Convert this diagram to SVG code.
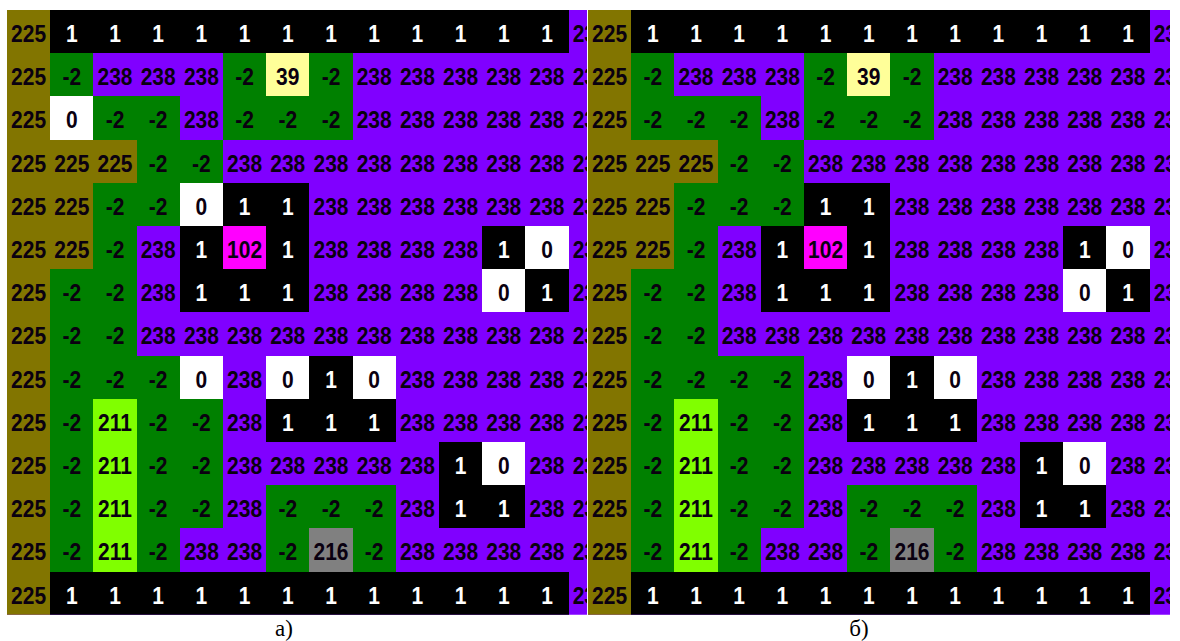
<svg xmlns="http://www.w3.org/2000/svg" width="1180" height="641" viewBox="0 0 1180 641">
<style>
.bg{fill:#8000ff}.O{fill:#827500}.G{fill:#008000}.K{fill:#000}.W{fill:#fff}.Y{fill:#ffff99}.M{fill:#ff00ff}.L{fill:#80ff00}.S{fill:#808080}
rect{shape-rendering:crispEdges}
text{font-family:"Liberation Sans",Arial,sans-serif;font-weight:bold;font-size:21px;text-anchor:middle;fill:#0a0010}
text.w{fill:#fff}
.lab{font-family:"Liberation Serif","Times New Roman",serif;font-weight:normal;font-size:23px;fill:#000}
</style>
<defs>
<clipPath id="clipA"><rect x="0" y="0" width="580" height="604.8"/></clipPath>
<clipPath id="clipB"><rect x="0" y="0" width="582" height="604.8"/></clipPath>
</defs>
<rect x="0" y="0" width="1180" height="641" fill="#fff"/>

<g id="panelA" transform="translate(7,10)" clip-path="url(#clipA)">
<rect class="bg" x="0" y="0" width="600" height="604.8"/>
<rect class="O" x="0" y="0" width="43.2" height="604.8"/>
<rect class="K" x="43.2" y="0" width="518.4" height="43.2"/>
<rect class="K" x="43.2" y="561.6" width="518.4" height="43.2"/>
<rect class="G" x="43.2" y="43.2" width="43.2" height="43.2"/>
<rect class="G" x="216" y="43.2" width="43.2" height="86.4"/>
<rect class="Y" x="259.2" y="43.2" width="43.2" height="43.2"/>
<rect class="G" x="302.4" y="43.2" width="43.2" height="43.2"/>
<rect class="W" x="43.2" y="86.4" width="43.2" height="43.2"/>
<rect class="G" x="86.4" y="86.4" width="86.4" height="43.2"/>
<rect class="G" x="216" y="86.4" width="129.6" height="43.2"/>
<rect class="O" x="43.2" y="129.6" width="86.4" height="43.2"/>
<rect class="G" x="129.6" y="129.6" width="86.4" height="43.2"/>
<rect class="O" x="43.2" y="172.8" width="43.2" height="86.4"/>
<rect class="G" x="86.4" y="172.8" width="86.4" height="43.2"/>
<rect class="W" x="172.8" y="172.8" width="43.2" height="43.2"/>
<rect class="K" x="216" y="172.8" width="86.4" height="43.2"/>
<rect class="G" x="86.4" y="216" width="43.2" height="43.2"/>
<rect class="K" x="172.8" y="216" width="43.2" height="43.2"/>
<rect class="M" x="216" y="216" width="43.2" height="43.2"/>
<rect class="K" x="259.2" y="216" width="43.2" height="43.2"/>
<rect class="K" x="475.2" y="216" width="43.2" height="43.2"/>
<rect class="W" x="518.4" y="216" width="43.2" height="43.2"/>
<rect class="G" x="43.2" y="259.2" width="86.4" height="86.4"/>
<rect class="K" x="172.8" y="259.2" width="129.6" height="43.2"/>
<rect class="W" x="475.2" y="259.2" width="43.2" height="43.2"/>
<rect class="K" x="518.4" y="259.2" width="43.2" height="43.2"/>
<rect class="G" x="43.2" y="345.6" width="129.6" height="43.2"/>
<rect class="W" x="172.8" y="345.6" width="43.2" height="43.2"/>
<rect class="W" x="259.2" y="345.6" width="43.2" height="43.2"/>
<rect class="K" x="302.4" y="345.6" width="43.2" height="43.2"/>
<rect class="W" x="345.6" y="345.6" width="43.2" height="43.2"/>
<rect class="G" x="43.2" y="388.8" width="43.2" height="172.8"/>
<rect class="L" x="86.4" y="388.8" width="43.2" height="172.8"/>
<rect class="G" x="129.6" y="388.8" width="86.4" height="129.6"/>
<rect class="K" x="259.2" y="388.8" width="129.6" height="43.2"/>
<rect class="K" x="432" y="432" width="43.2" height="86.4"/>
<rect class="W" x="475.2" y="432" width="43.2" height="43.2"/>
<rect class="G" x="259.2" y="475.2" width="129.6" height="43.2"/>
<rect class="K" x="475.2" y="475.2" width="43.2" height="43.2"/>
<rect class="G" x="129.6" y="518.4" width="43.2" height="43.2"/>
<rect class="G" x="259.2" y="518.4" width="43.2" height="43.2"/>
<rect class="S" x="302.4" y="518.4" width="43.2" height="43.2"/>
<rect class="G" x="345.6" y="518.4" width="43.2" height="43.2"/>

<g transform="translate(0,32) scale(1,1.12)"><text x="21.6">225</text><text class="w" x="64.8">1</text><text class="w" x="108">1</text><text class="w" x="151.2">1</text><text class="w" x="194.4">1</text><text class="w" x="237.6">1</text><text class="w" x="280.8">1</text><text class="w" x="324">1</text><text class="w" x="367.2">1</text><text class="w" x="410.4">1</text><text class="w" x="453.6">1</text><text class="w" x="496.8">1</text><text class="w" x="540">1</text><text x="583.2">238</text></g>
<g transform="translate(0,75.2) scale(1,1.12)"><text x="21.6">225</text><text x="64.8">-2</text><text x="108">238</text><text x="151.2">238</text><text x="194.4">238</text><text x="237.6">-2</text><text x="280.8">39</text><text x="324">-2</text><text x="367.2">238</text><text x="410.4">238</text><text x="453.6">238</text><text x="496.8">238</text><text x="540">238</text><text x="583.2">238</text></g>
<g transform="translate(0,118.4) scale(1,1.12)"><text x="21.6">225</text><text x="64.8">0</text><text x="108">-2</text><text x="151.2">-2</text><text x="194.4">238</text><text x="237.6">-2</text><text x="280.8">-2</text><text x="324">-2</text><text x="367.2">238</text><text x="410.4">238</text><text x="453.6">238</text><text x="496.8">238</text><text x="540">238</text><text x="583.2">238</text></g>
<g transform="translate(0,161.6) scale(1,1.12)"><text x="21.6">225</text><text x="64.8">225</text><text x="108">225</text><text x="151.2">-2</text><text x="194.4">-2</text><text x="237.6">238</text><text x="280.8">238</text><text x="324">238</text><text x="367.2">238</text><text x="410.4">238</text><text x="453.6">238</text><text x="496.8">238</text><text x="540">238</text><text x="583.2">238</text></g>
<g transform="translate(0,204.8) scale(1,1.12)"><text x="21.6">225</text><text x="64.8">225</text><text x="108">-2</text><text x="151.2">-2</text><text x="194.4">0</text><text class="w" x="237.6">1</text><text class="w" x="280.8">1</text><text x="324">238</text><text x="367.2">238</text><text x="410.4">238</text><text x="453.6">238</text><text x="496.8">238</text><text x="540">238</text><text x="583.2">238</text></g>
<g transform="translate(0,248) scale(1,1.12)"><text x="21.6">225</text><text x="64.8">225</text><text x="108">-2</text><text x="151.2">238</text><text class="w" x="194.4">1</text><text x="237.6">102</text><text class="w" x="280.8">1</text><text x="324">238</text><text x="367.2">238</text><text x="410.4">238</text><text x="453.6">238</text><text class="w" x="496.8">1</text><text x="540">0</text><text x="583.2">238</text></g>
<g transform="translate(0,291.2) scale(1,1.12)"><text x="21.6">225</text><text x="64.8">-2</text><text x="108">-2</text><text x="151.2">238</text><text class="w" x="194.4">1</text><text class="w" x="237.6">1</text><text class="w" x="280.8">1</text><text x="324">238</text><text x="367.2">238</text><text x="410.4">238</text><text x="453.6">238</text><text x="496.8">0</text><text class="w" x="540">1</text><text x="583.2">238</text></g>
<g transform="translate(0,334.4) scale(1,1.12)"><text x="21.6">225</text><text x="64.8">-2</text><text x="108">-2</text><text x="151.2">238</text><text x="194.4">238</text><text x="237.6">238</text><text x="280.8">238</text><text x="324">238</text><text x="367.2">238</text><text x="410.4">238</text><text x="453.6">238</text><text x="496.8">238</text><text x="540">238</text><text x="583.2">238</text></g>
<g transform="translate(0,377.6) scale(1,1.12)"><text x="21.6">225</text><text x="64.8">-2</text><text x="108">-2</text><text x="151.2">-2</text><text x="194.4">0</text><text x="237.6">238</text><text x="280.8">0</text><text class="w" x="324">1</text><text x="367.2">0</text><text x="410.4">238</text><text x="453.6">238</text><text x="496.8">238</text><text x="540">238</text><text x="583.2">238</text></g>
<g transform="translate(0,420.8) scale(1,1.12)"><text x="21.6">225</text><text x="64.8">-2</text><text x="108">211</text><text x="151.2">-2</text><text x="194.4">-2</text><text x="237.6">238</text><text class="w" x="280.8">1</text><text class="w" x="324">1</text><text class="w" x="367.2">1</text><text x="410.4">238</text><text x="453.6">238</text><text x="496.8">238</text><text x="540">238</text><text x="583.2">238</text></g>
<g transform="translate(0,464) scale(1,1.12)"><text x="21.6">225</text><text x="64.8">-2</text><text x="108">211</text><text x="151.2">-2</text><text x="194.4">-2</text><text x="237.6">238</text><text x="280.8">238</text><text x="324">238</text><text x="367.2">238</text><text x="410.4">238</text><text class="w" x="453.6">1</text><text x="496.8">0</text><text x="540">238</text><text x="583.2">238</text></g>
<g transform="translate(0,507.2) scale(1,1.12)"><text x="21.6">225</text><text x="64.8">-2</text><text x="108">211</text><text x="151.2">-2</text><text x="194.4">-2</text><text x="237.6">238</text><text x="280.8">-2</text><text x="324">-2</text><text x="367.2">-2</text><text x="410.4">238</text><text class="w" x="453.6">1</text><text class="w" x="496.8">1</text><text x="540">238</text><text x="583.2">238</text></g>
<g transform="translate(0,550.4) scale(1,1.12)"><text x="21.6">225</text><text x="64.8">-2</text><text x="108">211</text><text x="151.2">-2</text><text x="194.4">238</text><text x="237.6">238</text><text x="280.8">-2</text><text x="324">216</text><text x="367.2">-2</text><text x="410.4">238</text><text x="453.6">238</text><text x="496.8">238</text><text x="540">238</text><text x="583.2">238</text></g>
<g transform="translate(0,593.6) scale(1,1.12)"><text x="21.6">225</text><text class="w" x="64.8">1</text><text class="w" x="108">1</text><text class="w" x="151.2">1</text><text class="w" x="194.4">1</text><text class="w" x="237.6">1</text><text class="w" x="280.8">1</text><text class="w" x="324">1</text><text class="w" x="367.2">1</text><text class="w" x="410.4">1</text><text class="w" x="453.6">1</text><text class="w" x="496.8">1</text><text class="w" x="540">1</text><text x="583.2">238</text></g>
</g>

<g id="panelB" transform="translate(588,10)" clip-path="url(#clipB)">
<rect class="bg" x="0" y="0" width="600" height="604.8"/>
<rect class="O" x="0" y="0" width="43.2" height="604.8"/>
<rect class="K" x="43.2" y="0" width="518.4" height="43.2"/>
<rect class="K" x="43.2" y="561.6" width="518.4" height="43.2"/>
<rect class="G" x="43.2" y="43.2" width="43.2" height="43.2"/>
<rect class="G" x="216" y="43.2" width="43.2" height="86.4"/>
<rect class="Y" x="259.2" y="43.2" width="43.2" height="43.2"/>
<rect class="G" x="302.4" y="43.2" width="43.2" height="43.2"/>
<rect class="G" x="43.2" y="86.4" width="129.6" height="43.2"/>
<rect class="G" x="216" y="86.4" width="129.6" height="43.2"/>
<rect class="O" x="43.2" y="129.6" width="86.4" height="43.2"/>
<rect class="G" x="129.6" y="129.6" width="86.4" height="43.2"/>
<rect class="O" x="43.2" y="172.8" width="43.2" height="86.4"/>
<rect class="G" x="86.4" y="172.8" width="129.6" height="43.2"/>
<rect class="K" x="216" y="172.8" width="86.4" height="43.2"/>
<rect class="G" x="86.4" y="216" width="43.2" height="43.2"/>
<rect class="K" x="172.8" y="216" width="43.2" height="43.2"/>
<rect class="M" x="216" y="216" width="43.2" height="43.2"/>
<rect class="K" x="259.2" y="216" width="43.2" height="43.2"/>
<rect class="K" x="475.2" y="216" width="43.2" height="43.2"/>
<rect class="W" x="518.4" y="216" width="43.2" height="43.2"/>
<rect class="G" x="43.2" y="259.2" width="86.4" height="86.4"/>
<rect class="K" x="172.8" y="259.2" width="129.6" height="43.2"/>
<rect class="W" x="475.2" y="259.2" width="43.2" height="43.2"/>
<rect class="K" x="518.4" y="259.2" width="43.2" height="43.2"/>
<rect class="G" x="43.2" y="345.6" width="172.8" height="43.2"/>
<rect class="W" x="259.2" y="345.6" width="43.2" height="43.2"/>
<rect class="K" x="302.4" y="345.6" width="43.2" height="43.2"/>
<rect class="W" x="345.6" y="345.6" width="43.2" height="43.2"/>
<rect class="G" x="43.2" y="388.8" width="43.2" height="172.8"/>
<rect class="L" x="86.4" y="388.8" width="43.2" height="172.8"/>
<rect class="G" x="129.6" y="388.8" width="86.4" height="129.6"/>
<rect class="K" x="259.2" y="388.8" width="129.6" height="43.2"/>
<rect class="K" x="432" y="432" width="43.2" height="86.4"/>
<rect class="W" x="475.2" y="432" width="43.2" height="43.2"/>
<rect class="G" x="259.2" y="475.2" width="129.6" height="43.2"/>
<rect class="K" x="475.2" y="475.2" width="43.2" height="43.2"/>
<rect class="G" x="129.6" y="518.4" width="43.2" height="43.2"/>
<rect class="G" x="259.2" y="518.4" width="43.2" height="43.2"/>
<rect class="S" x="302.4" y="518.4" width="43.2" height="43.2"/>
<rect class="G" x="345.6" y="518.4" width="43.2" height="43.2"/>

<g transform="translate(0,32) scale(1,1.12)"><text x="21.6">225</text><text class="w" x="64.8">1</text><text class="w" x="108">1</text><text class="w" x="151.2">1</text><text class="w" x="194.4">1</text><text class="w" x="237.6">1</text><text class="w" x="280.8">1</text><text class="w" x="324">1</text><text class="w" x="367.2">1</text><text class="w" x="410.4">1</text><text class="w" x="453.6">1</text><text class="w" x="496.8">1</text><text class="w" x="540">1</text><text x="583.2">238</text></g>
<g transform="translate(0,75.2) scale(1,1.12)"><text x="21.6">225</text><text x="64.8">-2</text><text x="108">238</text><text x="151.2">238</text><text x="194.4">238</text><text x="237.6">-2</text><text x="280.8">39</text><text x="324">-2</text><text x="367.2">238</text><text x="410.4">238</text><text x="453.6">238</text><text x="496.8">238</text><text x="540">238</text><text x="583.2">238</text></g>
<g transform="translate(0,118.4) scale(1,1.12)"><text x="21.6">225</text><text x="64.8">-2</text><text x="108">-2</text><text x="151.2">-2</text><text x="194.4">238</text><text x="237.6">-2</text><text x="280.8">-2</text><text x="324">-2</text><text x="367.2">238</text><text x="410.4">238</text><text x="453.6">238</text><text x="496.8">238</text><text x="540">238</text><text x="583.2">238</text></g>
<g transform="translate(0,161.6) scale(1,1.12)"><text x="21.6">225</text><text x="64.8">225</text><text x="108">225</text><text x="151.2">-2</text><text x="194.4">-2</text><text x="237.6">238</text><text x="280.8">238</text><text x="324">238</text><text x="367.2">238</text><text x="410.4">238</text><text x="453.6">238</text><text x="496.8">238</text><text x="540">238</text><text x="583.2">238</text></g>
<g transform="translate(0,204.8) scale(1,1.12)"><text x="21.6">225</text><text x="64.8">225</text><text x="108">-2</text><text x="151.2">-2</text><text x="194.4">-2</text><text class="w" x="237.6">1</text><text class="w" x="280.8">1</text><text x="324">238</text><text x="367.2">238</text><text x="410.4">238</text><text x="453.6">238</text><text x="496.8">238</text><text x="540">238</text><text x="583.2">238</text></g>
<g transform="translate(0,248) scale(1,1.12)"><text x="21.6">225</text><text x="64.8">225</text><text x="108">-2</text><text x="151.2">238</text><text class="w" x="194.4">1</text><text x="237.6">102</text><text class="w" x="280.8">1</text><text x="324">238</text><text x="367.2">238</text><text x="410.4">238</text><text x="453.6">238</text><text class="w" x="496.8">1</text><text x="540">0</text><text x="583.2">238</text></g>
<g transform="translate(0,291.2) scale(1,1.12)"><text x="21.6">225</text><text x="64.8">-2</text><text x="108">-2</text><text x="151.2">238</text><text class="w" x="194.4">1</text><text class="w" x="237.6">1</text><text class="w" x="280.8">1</text><text x="324">238</text><text x="367.2">238</text><text x="410.4">238</text><text x="453.6">238</text><text x="496.8">0</text><text class="w" x="540">1</text><text x="583.2">238</text></g>
<g transform="translate(0,334.4) scale(1,1.12)"><text x="21.6">225</text><text x="64.8">-2</text><text x="108">-2</text><text x="151.2">238</text><text x="194.4">238</text><text x="237.6">238</text><text x="280.8">238</text><text x="324">238</text><text x="367.2">238</text><text x="410.4">238</text><text x="453.6">238</text><text x="496.8">238</text><text x="540">238</text><text x="583.2">238</text></g>
<g transform="translate(0,377.6) scale(1,1.12)"><text x="21.6">225</text><text x="64.8">-2</text><text x="108">-2</text><text x="151.2">-2</text><text x="194.4">-2</text><text x="237.6">238</text><text x="280.8">0</text><text class="w" x="324">1</text><text x="367.2">0</text><text x="410.4">238</text><text x="453.6">238</text><text x="496.8">238</text><text x="540">238</text><text x="583.2">238</text></g>
<g transform="translate(0,420.8) scale(1,1.12)"><text x="21.6">225</text><text x="64.8">-2</text><text x="108">211</text><text x="151.2">-2</text><text x="194.4">-2</text><text x="237.6">238</text><text class="w" x="280.8">1</text><text class="w" x="324">1</text><text class="w" x="367.2">1</text><text x="410.4">238</text><text x="453.6">238</text><text x="496.8">238</text><text x="540">238</text><text x="583.2">238</text></g>
<g transform="translate(0,464) scale(1,1.12)"><text x="21.6">225</text><text x="64.8">-2</text><text x="108">211</text><text x="151.2">-2</text><text x="194.4">-2</text><text x="237.6">238</text><text x="280.8">238</text><text x="324">238</text><text x="367.2">238</text><text x="410.4">238</text><text class="w" x="453.6">1</text><text x="496.8">0</text><text x="540">238</text><text x="583.2">238</text></g>
<g transform="translate(0,507.2) scale(1,1.12)"><text x="21.6">225</text><text x="64.8">-2</text><text x="108">211</text><text x="151.2">-2</text><text x="194.4">-2</text><text x="237.6">238</text><text x="280.8">-2</text><text x="324">-2</text><text x="367.2">-2</text><text x="410.4">238</text><text class="w" x="453.6">1</text><text class="w" x="496.8">1</text><text x="540">238</text><text x="583.2">238</text></g>
<g transform="translate(0,550.4) scale(1,1.12)"><text x="21.6">225</text><text x="64.8">-2</text><text x="108">211</text><text x="151.2">-2</text><text x="194.4">238</text><text x="237.6">238</text><text x="280.8">-2</text><text x="324">216</text><text x="367.2">-2</text><text x="410.4">238</text><text x="453.6">238</text><text x="496.8">238</text><text x="540">238</text><text x="583.2">238</text></g>
<g transform="translate(0,593.6) scale(1,1.12)"><text x="21.6">225</text><text class="w" x="64.8">1</text><text class="w" x="108">1</text><text class="w" x="151.2">1</text><text class="w" x="194.4">1</text><text class="w" x="237.6">1</text><text class="w" x="280.8">1</text><text class="w" x="324">1</text><text class="w" x="367.2">1</text><text class="w" x="410.4">1</text><text class="w" x="453.6">1</text><text class="w" x="496.8">1</text><text class="w" x="540">1</text><text x="583.2">238</text></g>
</g>

<text class="lab" x="284" y="636">а)</text>
<text class="lab" x="859" y="636">б)</text>
</svg>
